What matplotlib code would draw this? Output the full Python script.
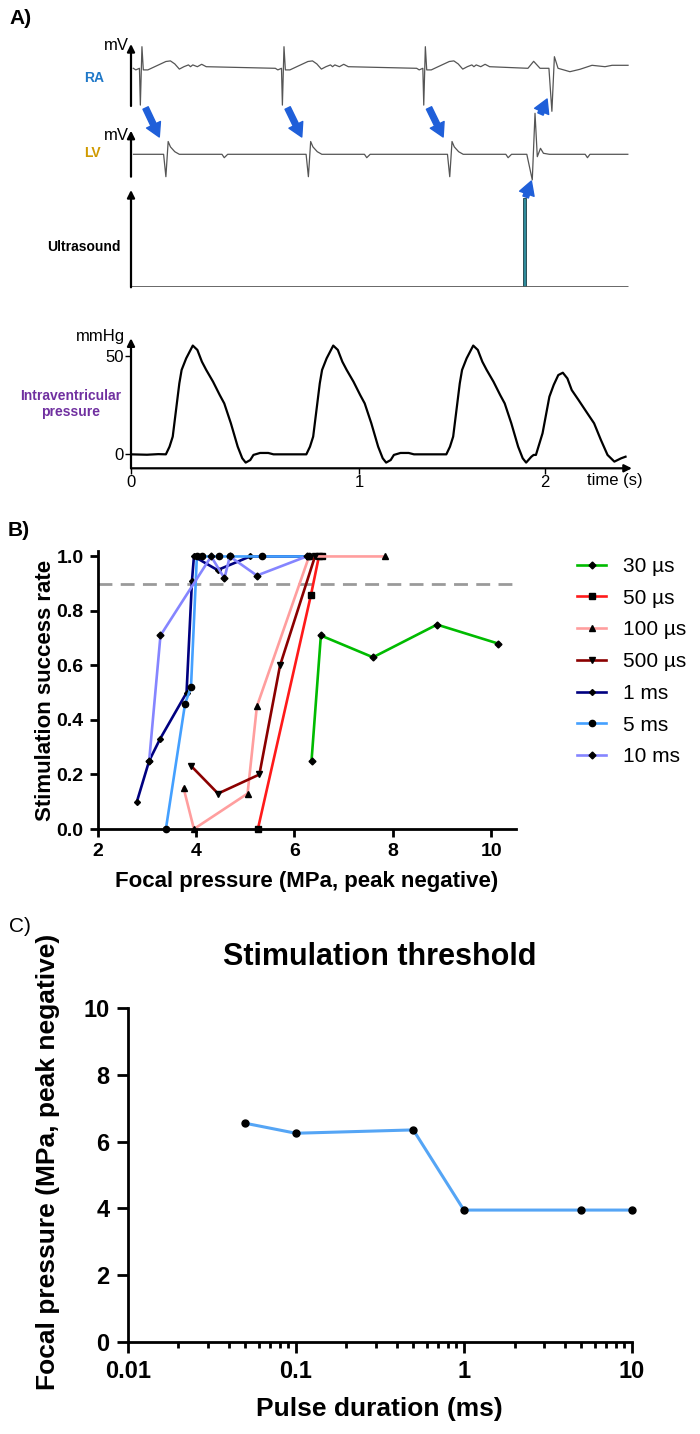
import numpy as np
import matplotlib
matplotlib.use("Agg")
import matplotlib.pyplot as plt
from matplotlib.transforms import blended_transform_factory

plt.rcParams["font.family"] = ["Liberation Sans", "DejaVu Sans"]

# ---------------- data ----------------
# panel A : schematic traces (time in s)
ra_beats = [0.041, 0.664, 1.284]
ra_dt = [-0.031, -0.020, -0.004, 0.0, 0.007, 0.013, 0.033, 0.063, 0.112, 0.132,
         0.151, 0.171, 0.191, 0.211, 0.220, 0.230, 0.250, 0.269, 0.289]
ra_mv = [0, -0.08, 0, -1.84, 1.08, -0.08, -0.08, 0.08, 0.34, 0.37,
         0.22, -0.04, 0.08, 0.17, 0.08, 0.17, 0.08, 0.20, 0.08]
ra_tail_t = [1.741, 1.766, 1.794, 1.833, 1.846, 1.857, 1.873, 1.904, 1.925,
             1.969, 2.022, 2.079, 2.110, 2.180]
ra_tail_mv = [0, 0.35, 0, 0, -2.15, 0.58, 0, -0.10, -0.17, -0.05, 0.15, 0.08,
              0.15, 0.15]

lv_beats = [0.153, 0.778, 1.398]
lv_dt = [-0.010, 0.0, 0.010, 0.020, 0.039, 0.059, 0.246, 0.256, 0.271]
lv_mv = [0, -1.12, 0.64, 0.37, 0.13, 0, 0, -0.17, 0]
lv_tail_t = [1.736, 1.760, 1.772, 1.782, 1.796, 1.809, 1.835, 1.992, 2.002,
             2.013, 2.179]
lv_tail_mv = [0, -1.28, 2.05, -0.12, 0.30, 0.05, 0, 0, -0.17, 0, 0]

us_t = 1.727
us_h = 0.915

p_onsets = [0.153, 0.769, 1.383]
p_dt = [0, 0.016, 0.030, 0.059, 0.069, 0.089, 0.118, 0.138, 0.158, 0.177,
        0.207, 0.236, 0.256, 0.285, 0.315, 0.335, 0.350, 0.370, 0.384, 0.413,
        0.449, 0.472]
p_mmhg = [0, 3.9, 9.0, 36.1, 42.9, 48.8, 55.3, 53.1, 47.1, 42.9, 36.9, 30.2,
          25.9, 15.8, 3.9, -2.0, -4.2, -2.9, -0.3, 0.7, 0.7, 0]
p_lead_t = [0.0, 0.07, 0.12]
p_lead = [0, -0.2, 0.1]
p_tail_t = [1.756, 1.766, 1.776, 1.805, 1.835, 1.854, 1.874, 1.894, 1.914,
            1.933, 1.963, 2.002, 2.031, 2.061, 2.090, 2.120, 2.150, 2.169]
p_tail = [-1.2, -0.3, -0.3, 10.7, 29.3, 35.3, 40.3, 41.5, 38.6, 32.7, 27.6,
          20.8, 15.8, 7.3, -0.3, -3.7, -2.0, -1.2]
time_ticks = [0, 1, 1.815]
time_labels = ["0", "1", "2"]

# panel B : success rate vs focal pressure
labels_b = ["30 µs", "50 µs", "100 µs", "500 µs", "1 ms", "5 ms", "10 ms"]
x30 = [6.35, 6.54, 7.60, 8.90, 10.15]
y30 = [0.25, 0.71, 0.63, 0.75, 0.68]
x50 = [5.26, 6.34, 6.50, 6.56]
y50 = [0.0, 0.86, 1.0, 1.0]
x100 = [3.75, 3.96, 5.05, 5.24, 6.30, 7.84]
y100 = [0.15, 0.0, 0.13, 0.45, 1.0, 1.0]
x500 = [3.91, 4.45, 5.29, 5.71, 6.42]
y500 = [0.23, 0.13, 0.20, 0.60, 1.0]
x1ms = [2.80, 3.05, 3.27, 3.81, 3.92, 3.96, 4.44, 5.10, 5.34, 6.30]
y1ms = [0.10, 0.25, 0.33, 0.50, 0.91, 1.0, 0.95, 1.0, 1.0, 1.0]
x5ms = [3.39, 3.78, 3.90, 4.02, 4.12, 4.46, 4.69, 5.34, 6.30]
y5ms = [0.0, 0.46, 0.52, 1.0, 1.0, 1.0, 1.0, 1.0, 1.0]
x10ms = [3.05, 3.28, 4.31, 4.58, 4.69, 5.24, 6.25]
y10ms = [0.25, 0.71, 1.0, 0.92, 1.0, 0.93, 1.0]
threshold_line = 0.9

# panel C : stimulation threshold
duration_ms = [0.05, 0.1, 0.5, 1, 5, 10]
threshold_mpa = [6.55, 6.25, 6.35, 3.95, 3.95, 3.95]

# ---------------- layout helpers ----------------
W, H = 700, 1434
fig = plt.figure(figsize=(W / 100, H / 100), dpi=100)


def rect(left, top, right, bottom):
    return [left / W, 1 - bottom / H, (right - left) / W, (bottom - top) / H]


def fy(py):
    return 1 - py / H


def build(beats, dt, vals, last_max=None):
    ts, vs = [], []
    for i, b in enumerate(beats):
        for d, v in zip(dt, vals):
            if last_max is not None and i == len(beats) - 1 and d > last_max:
                break
            ts.append(b + d)
            vs.append(v)
    return ts, vs


TMAX = 2.25
trace_c = "#555555"
axis_arrow = dict(arrowstyle="-|>", color="black", lw=1.6, mutation_scale=11,
                  shrinkA=0, shrinkB=0)

# ---------------- panel A ----------------
ax_ra = fig.add_axes(rect(131, 44, 131 + TMAX * 228, 106))
ax_lv = fig.add_axes(rect(131, 130.7, 131 + TMAX * 228, 176.7))
ax_us = fig.add_axes(rect(131, 190, 131 + TMAX * 228, 287.3))
ax_p = fig.add_axes(rect(131, 338.3, 131 + TMAX * 228, 468.3))

for ax in (ax_ra, ax_lv, ax_us, ax_p):
    ax.set_xlim(0, TMAX)
    for s in ax.spines.values():
        s.set_visible(False)
    ax.patch.set_alpha(0)

# RA
t, v = build(ra_beats, ra_dt, ra_mv, last_max=0.29)
ax_ra.plot(t + ra_tail_t, v + ra_tail_mv, color=trace_c, lw=0.9, clip_on=False)
ax_ra.set_ylim(-1.885, 1.215)
ax_ra.set_xticks([]); ax_ra.set_yticks([])
ax_ra.annotate("", xy=(0, 1), xytext=(0, 0), xycoords="axes fraction",
               arrowprops=axis_arrow)

# LV
t, v = build(lv_beats, lv_dt, lv_mv)
ax_lv.plot([0.011] + t + lv_tail_t, [0] + v + lv_tail_mv, color=trace_c, lw=0.9,
           clip_on=False)
ax_lv.set_ylim(-1.12, 1.18)
ax_lv.set_xticks([]); ax_lv.set_yticks([])
ax_lv.annotate("", xy=(0, 1), xytext=(0, 0), xycoords="axes fraction",
               arrowprops=axis_arrow)

# ultrasound
ax_us.set_ylim(0, 1)
ax_us.plot([0, 2.18], [0, 0], color="#5a5a5a", lw=2, solid_capstyle="butt")
ax_us.bar([us_t], [us_h], width=0.012, color="#2f8a99", edgecolor="#1b3f47",
          lw=0.6)
ax_us.set_xticks([]); ax_us.set_yticks([])
ax_us.annotate("", xy=(0, 1), xytext=(0, 0), xycoords="axes fraction",
               arrowprops=axis_arrow)

# pressure
t, v = build(p_onsets, p_dt, p_mmhg, last_max=0.351)
ax_p.plot(p_lead_t + t + p_tail_t, p_lead + v + p_tail, color="black", lw=1.6)
ax_p.set_ylim(-7.1, 59.0)
ax_p.set_yticks([0, 50])
ax_p.set_yticklabels(["0", "50"], fontsize=12)
ax_p.set_xticks(time_ticks)
ax_p.set_xticklabels(time_labels, fontsize=12)
ax_p.tick_params(length=4, width=1, pad=1)
ax_p.annotate("", xy=(0, 1), xytext=(0, 0), xycoords="axes fraction",
              arrowprops=axis_arrow)
ax_p.annotate("", xy=(2.197 / TMAX, 0), xytext=(0, 0), xycoords="axes fraction",
              arrowprops=axis_arrow)

# blue conduction arrows
blue = "#1f5fd9"
bstyle = dict(arrowstyle="simple,head_width=0.85,head_length=0.75,tail_width=0.32",
              color=blue, mutation_scale=13, shrinkA=0, shrinkB=0)
tr = blended_transform_factory(ax_ra.transData, fig.transFigure)
for rb, lb in zip(ra_beats, lv_beats):
    ax_ra.annotate("", xy=(lb - 0.029, fy(137)), xytext=(rb + 0.023, fy(108)),
                   xycoords=tr, textcoords=tr, arrowprops=bstyle,
                   annotation_clip=False)
ax_ra.annotate("", xy=(1.825, fy(99)), xytext=(1.796, fy(114)), xycoords=tr,
               textcoords=tr, arrowprops=bstyle, annotation_clip=False)
ax_ra.annotate("", xy=(1.756, fy(181)), xytext=(1.731, fy(197)), xycoords=tr,
               textcoords=tr, arrowprops=bstyle, annotation_clip=False)

# panel A labels
fig.text(9 / W, fy(19), "A)", fontsize=15, fontweight="bold", va="center")
fig.text(129 / W, fy(45), "mV", fontsize=12, ha="right", va="center")
fig.text(129 / W, fy(136), "mV", fontsize=12, ha="right", va="center")
fig.text(94 / W, fy(78), "RA", fontsize=10, fontweight="bold", color="#1f78c8",
         ha="center", va="center")
fig.text(92 / W, fy(153), "LV", fontsize=10, fontweight="bold", color="#d09a00",
         ha="center", va="center")
fig.text(84 / W, fy(247), "Ultrasound", fontsize=10, fontweight="bold",
         color="black", ha="center", va="center")
fig.text(71 / W, fy(404), "Intraventricular\npressure", fontsize=10,
         fontweight="bold", color="#7030a0", ha="center", va="center",
         linespacing=1.25)
fig.text(100 / W, fy(336), "mmHg", fontsize=12, ha="center", va="center")
fig.text(615 / W, fy(481), "time (s)", fontsize=12, ha="center", va="center")

# ---------------- panel B ----------------
axb = fig.add_axes(rect(97.5, 551, 515.7, 829))
series = [
    (x30, y30, "#00bb00", "D", 3.5),
    (x50, y50, "#ff1a1a", "s", 4.5),
    (x100, y100, "#ff9e9e", "^", 4.5),
    (x500, y500, "#8b0000", "v", 4.5),
    (x1ms, y1ms, "#000080", "D", 3.0),
    (x5ms, y5ms, "#44a0ff", "o", 4.5),
    (x10ms, y10ms, "#8585ff", "D", 3.5),
]
handles = []
for (xs, ys, c, m, ms), lab in zip(series, labels_b):
    h, = axb.plot(xs, ys, color=c, lw=1.9, marker=m, ms=ms, mfc="black",
                  mec="black", label=lab, clip_on=False)
    handles.append(h)
axb.axhline(threshold_line, color="#9a9a9a", lw=2, dashes=(5, 3), zorder=0)
axb.set_xlim(2, 10.5)
axb.set_ylim(0, 1.02)
axb.set_xticks([2, 4, 6, 8, 10])
axb.set_yticks([0, 0.2, 0.4, 0.6, 0.8, 1.0])
axb.set_yticklabels(["0.0", "0.2", "0.4", "0.6", "0.8", "1.0"])
axb.spines["top"].set_visible(False)
axb.spines["right"].set_visible(False)
axb.spines["left"].set_linewidth(2)
axb.spines["bottom"].set_linewidth(2)
axb.tick_params(width=2, length=6, labelsize=14, pad=4)
for lbl in axb.get_xticklabels() + axb.get_yticklabels():
    lbl.set_fontweight("bold")
axb.set_ylabel("Stimulation success rate", fontsize=16, fontweight="bold")
axb.yaxis.set_label_coords(-0.099, 0.5)
axb.set_xlabel("Focal pressure (MPa, peak negative)", fontsize=16,
               fontweight="bold")
axb.xaxis.set_label_coords(0.5, -0.15)
axb.legend(handles=handles, loc="upper left", bbox_to_anchor=(577 / W, fy(557)),
           bbox_transform=fig.transFigure, frameon=False, fontsize=15,
           handlelength=1.4, handletextpad=0.8, labelspacing=0.61,
           borderpad=0, borderaxespad=0, numpoints=1)
fig.text(8 / W, fy(530), "B)", fontsize=15, fontweight="bold", va="center")

# ---------------- panel C ----------------
axc = fig.add_axes(rect(127.7, 1008, 632, 1342))
axc.plot(duration_ms, threshold_mpa, color="#55a5f5", lw=2.2, marker="o", ms=5,
         mfc="black", mec="black", clip_on=False)
axc.set_xscale("log")
axc.set_xlim(0.01, 10)
axc.set_ylim(0, 10)
axc.set_xticks([0.01, 0.1, 1, 10])
axc.set_xticklabels(["0.01", "0.1", "1", "10"])
axc.set_yticks([0, 2, 4, 6, 8, 10])
axc.spines["top"].set_visible(False)
axc.spines["right"].set_visible(False)
axc.spines["left"].set_linewidth(2)
axc.spines["bottom"].set_linewidth(2)
axc.tick_params(which="major", width=2, length=8, labelsize=17, pad=5)
axc.tick_params(which="minor", width=2, length=4)
for lbl in axc.get_xticklabels() + axc.get_yticklabels():
    lbl.set_fontweight("bold")
axc.set_xlabel("Pulse duration (ms)", fontsize=19, fontweight="bold")
axc.xaxis.set_label_coords(0.5, -0.165)
axc.set_ylabel("Focal pressure (MPa, peak negative)", fontsize=19,
               fontweight="bold")
axc.yaxis.set_label_coords(-0.134, 0.54)
fig.text(380 / W, fy(957), "Stimulation threshold", fontsize=22,
         fontweight="bold", ha="center", va="center")
fig.text(9 / W, fy(926), "C)", fontsize=15, va="center")

fig.savefig("out.png", dpi=100)
